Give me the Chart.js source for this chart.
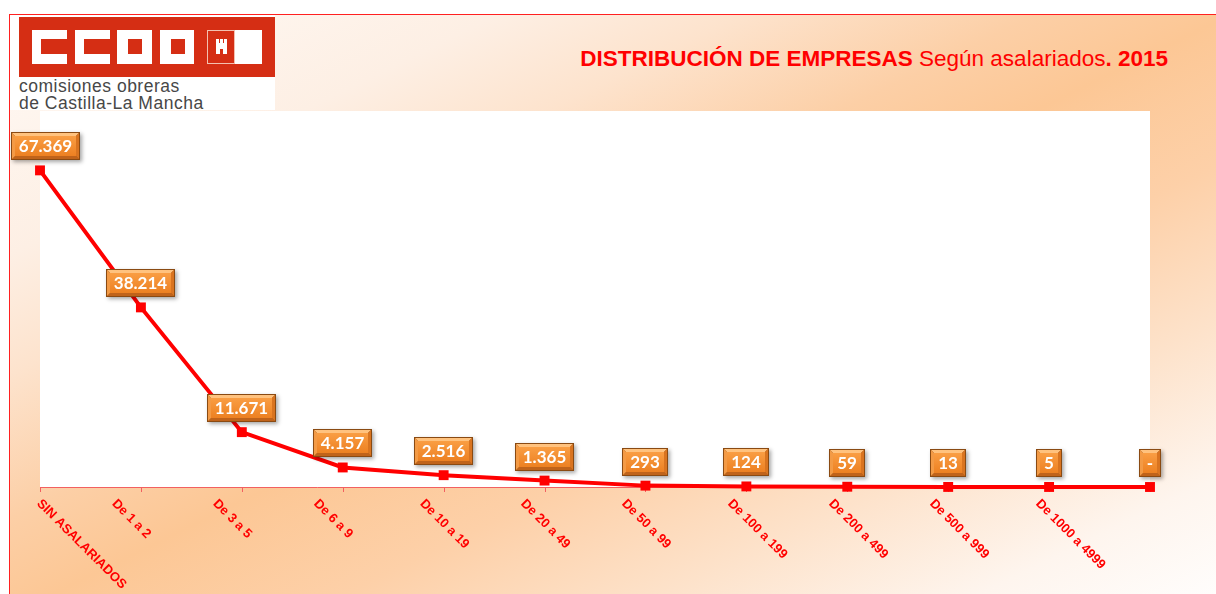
<!DOCTYPE html>
<html>
<head>
<meta charset="utf-8">
<script src="https://cdn.jsdelivr.net/npm/chart.js@4.4.0/dist/chart.umd.min.js"></script>
<style>
  body { margin: 0; width: 1216px; height: 594px; overflow: hidden; background: #fff; position: relative; }
  #marco {
    position: absolute; left: 9px; top: 14px; width: 1220px; height: 600px;
    border-left: 1px solid #ff2020; border-top: 1px solid #ff2020;
    background: linear-gradient(to bottom right, #fffaf6 0%, #fdefe4 20%, #fde3cd 30%, #fccfa6 42%, #fcc795 50%, #fdd0a8 62%, #fde2ca 75%, #fef5ee 88%, #ffffff 100%);
  }
  #logo { position: absolute; left: 10px; top: 15px; width: 265px; height: 95px; background: #fff; }
  .b { position: absolute; }
  .logotxt { position: absolute; left: 19px; font-family: "Liberation Sans", Arial, sans-serif; font-size: 17.5px; letter-spacing: 0.5px; color: #474747; white-space: nowrap; line-height: 17.5px; }
  #titulo {
    position: absolute; left: 0; top: 48px; width: 1168px; text-align: right;
    font-family: "Liberation Sans", Arial, sans-serif; font-size: 22.5px; line-height: 22.5px;
    color: #ff0000; white-space: nowrap;
  }
  #wrap { position: absolute; left: 0; top: 0; width: 1216px; height: 594px; }
</style>
</head>
<body>
<div id="marco"></div>
<div id="logo"></div>
<div class="b" style="left:19px;top:17px;width:256px;height:60px;background:#d52e14"></div>
<!-- C C O O -->
<div class="b" style="left:32px;top:30px;width:35px;height:34px;background:#fff"></div>
<div class="b" style="left:41px;top:39px;width:26px;height:15px;background:#d52e14"></div>
<div class="b" style="left:75px;top:30px;width:35px;height:34px;background:#fff"></div>
<div class="b" style="left:84px;top:39px;width:26px;height:15px;background:#d52e14"></div>
<div class="b" style="left:117px;top:30px;width:35px;height:34px;background:#fff"></div>
<div class="b" style="left:128px;top:39px;width:14px;height:15px;background:#d52e14"></div>
<div class="b" style="left:160px;top:30px;width:34px;height:34px;background:#fff"></div>
<div class="b" style="left:171px;top:39px;width:14px;height:15px;background:#d52e14"></div>
<!-- castillo -->
<div class="b" style="left:207px;top:30px;width:26px;height:32px;border:1px solid #f3c0b0;background:#d52e14"></div>
<div class="b" style="left:216px;top:43px;width:11px;height:11px;background:#fff"></div>
<div class="b" style="left:216px;top:39px;width:3px;height:4px;background:#fff"></div>
<div class="b" style="left:220px;top:39px;width:3px;height:4px;background:#fff"></div>
<div class="b" style="left:224px;top:39px;width:3px;height:4px;background:#fff"></div>
<div class="b" style="left:220px;top:49px;width:3px;height:5px;background:#d52e14"></div>
<div class="b" style="left:235px;top:30px;width:27px;height:34px;background:#fff"></div>
<div class="logotxt" style="top:78px">comisiones obreras</div>
<div class="logotxt" style="top:95px">de Castilla-La Mancha</div>

<div id="titulo"><b>DISTRIBUCIÓN DE EMPRESAS</b> Según asalariados<b>. 2015</b></div>

<div id="wrap"><canvas id="grafico"></canvas></div>

<script>
// datos
const categorias = ["SIN ASALARIADOS", "De 1 a 2", "De 3 a 5", "De 6 a 9", "De 10 a 19", "De 20 a 49",
  "De 50 a 99", "De 100 a 199", "De 200 a 499", "De 500 a 999", "De 1000 a 4999", ""];
const empresas = [67369, 38214, 11671, 4157, 2516, 1365, 293, 124, 59, 13, 5, 0];
const ejeY = { min: 0, max: 80000 };

function formato(n) {
  if (n === 0) return "-";
  return String(n).replace(/\B(?=(\d{3})+(?!\d))/g, ".");
}

// fondo blanco del area del grafico
const fondoArea = {
  id: "fondoArea",
  beforeDraw(chart) {
    const a = chart.chartArea;
    const ctx = chart.ctx;
    ctx.save();
    ctx.fillStyle = "#ffffff";
    ctx.fillRect(a.left, a.top, a.right - a.left, a.bottom - a.top);
    ctx.restore();
  }
};

// eje x: linea, marcas y etiquetas giradas
const ejeX = {
  id: "ejeX",
  beforeDatasetsDraw(chart) {
    const a = chart.chartArea;
    const ctx = chart.ctx;
    const x = chart.scales.x;
    ctx.save();
    ctx.strokeStyle = "#f26060";
    ctx.lineWidth = 1;
    ctx.beginPath();
    ctx.moveTo(a.left, a.bottom + 0.5);
    ctx.lineTo(a.right, a.bottom + 0.5);
    for (let i = 0; i < categorias.length; i++) {
      const px = Math.round(x.getPixelForValue(i)) + 0.5;
      ctx.moveTo(px, a.bottom);
      ctx.lineTo(px, a.bottom + 5);
    }
    ctx.stroke();

    ctx.fillStyle = "#ff0000";
    ctx.font = "bold 13px 'Liberation Sans', Arial, sans-serif";
    ctx.textAlign = "left";
    ctx.textBaseline = "top";
    for (let i = 0; i < categorias.length; i++) {
      if (!categorias[i]) continue;
      const px = x.getPixelForValue(i);
      const w = ctx.measureText(categorias[i]).width;
      const tx = px - 40 + 0.36 * w;
      ctx.save();
      ctx.translate(tx, a.bottom + 10);
      ctx.rotate(Math.PI / 4);
      ctx.fillText(categorias[i], 0, 0);
      ctx.restore();
    }
    ctx.restore();
  }
};

// cajas naranjas con los valores
function caja(ctx, x, y, w, h) {
  ctx.save();
  ctx.shadowColor = "rgba(0,0,0,0.35)";
  ctx.shadowBlur = 4;
  ctx.shadowOffsetX = 2;
  ctx.shadowOffsetY = 2;
  ctx.fillStyle = "#8a4a12";
  ctx.fillRect(x, y, w, h);
  ctx.restore();

  const b = 3;
  ctx.save();
  // biseles
  ctx.fillStyle = "#ffc27e";
  ctx.beginPath();
  ctx.moveTo(x + 1, y + 1); ctx.lineTo(x + w - 1, y + 1); ctx.lineTo(x + w - 1 - b, y + 1 + b); ctx.lineTo(x + 1 + b, y + 1 + b);
  ctx.fill();
  ctx.fillStyle = "#c0631a";
  ctx.beginPath();
  ctx.moveTo(x + 1, y + h - 1); ctx.lineTo(x + w - 1, y + h - 1); ctx.lineTo(x + w - 1 - b, y + h - 1 - b); ctx.lineTo(x + 1 + b, y + h - 1 - b);
  ctx.fill();
  ctx.fillStyle = "#f39a45";
  ctx.beginPath();
  ctx.moveTo(x + 1, y + 1); ctx.lineTo(x + 1 + b, y + 1 + b); ctx.lineTo(x + 1 + b, y + h - 1 - b); ctx.lineTo(x + 1, y + h - 1);
  ctx.fill();
  ctx.fillStyle = "#d97420";
  ctx.beginPath();
  ctx.moveTo(x + w - 1, y + 1); ctx.lineTo(x + w - 1 - b, y + 1 + b); ctx.lineTo(x + w - 1 - b, y + h - 1 - b); ctx.lineTo(x + w - 1, y + h - 1);
  ctx.fill();
  const g = ctx.createLinearGradient(0, y + b, 0, y + h - b);
  g.addColorStop(0, "#fa9f45");
  g.addColorStop(1, "#ec7f20");
  ctx.fillStyle = g;
  ctx.fillRect(x + 1 + b, y + 1 + b, w - 2 - 2 * b, h - 2 - 2 * b);
  ctx.restore();
}

const etiquetasValor = {
  id: "etiquetasValor",
  afterDatasetsDraw(chart) {
    const ctx = chart.ctx;
    const meta = chart.getDatasetMeta(0);
    ctx.save();
    ctx.font = "bold 17px Lato, 'Open Sans', sans-serif";
    ctx.textAlign = "center";
    ctx.textBaseline = "middle";
    meta.data.forEach((p, i) => {
      const txt = formato(empresas[i]);
      const w = Math.round(ctx.measureText(txt).width + 16);
      const h = 28;
      let bx = Math.round(p.x - w / 2);
      if (bx < 11) bx = 11;
      const by = Math.round(p.y - 10 - h);
      caja(ctx, bx, by, w, h);
      ctx.fillStyle = "#ffffff";
      ctx.fillText(txt, bx + w / 2, by + h / 2 + 1);
    });
    ctx.restore();
  }
};

const ctx = document.getElementById("grafico");
const grafico = new Chart(ctx, {
  type: "line",
  data: {
    labels: categorias,
    datasets: [
      {
        label: "Empresas",
        data: empresas,
        borderColor: "#ff0000",
        borderWidth: 4,
        pointStyle: "rect",
        pointRadius: 7,
        pointBackgroundColor: "#ff0000",
        pointBorderWidth: 0,
        tension: 0,
        clip: false,
      },
    ],
  },
  options: {
    responsive: true,
    maintainAspectRatio: false,
    animation: false,
    layout: {
      padding: { left: 40, top: 111, right: 66, bottom: 107 },
    },
    plugins: {
      legend: { display: false },
      tooltip: { enabled: false },
    },
    scales: {
      x: { display: false, offset: false },
      y: { display: false, min: ejeY.min, max: ejeY.max },
    },
  },
  plugins: [fondoArea, ejeX, etiquetasValor],
});
</script>
</body>
</html>
